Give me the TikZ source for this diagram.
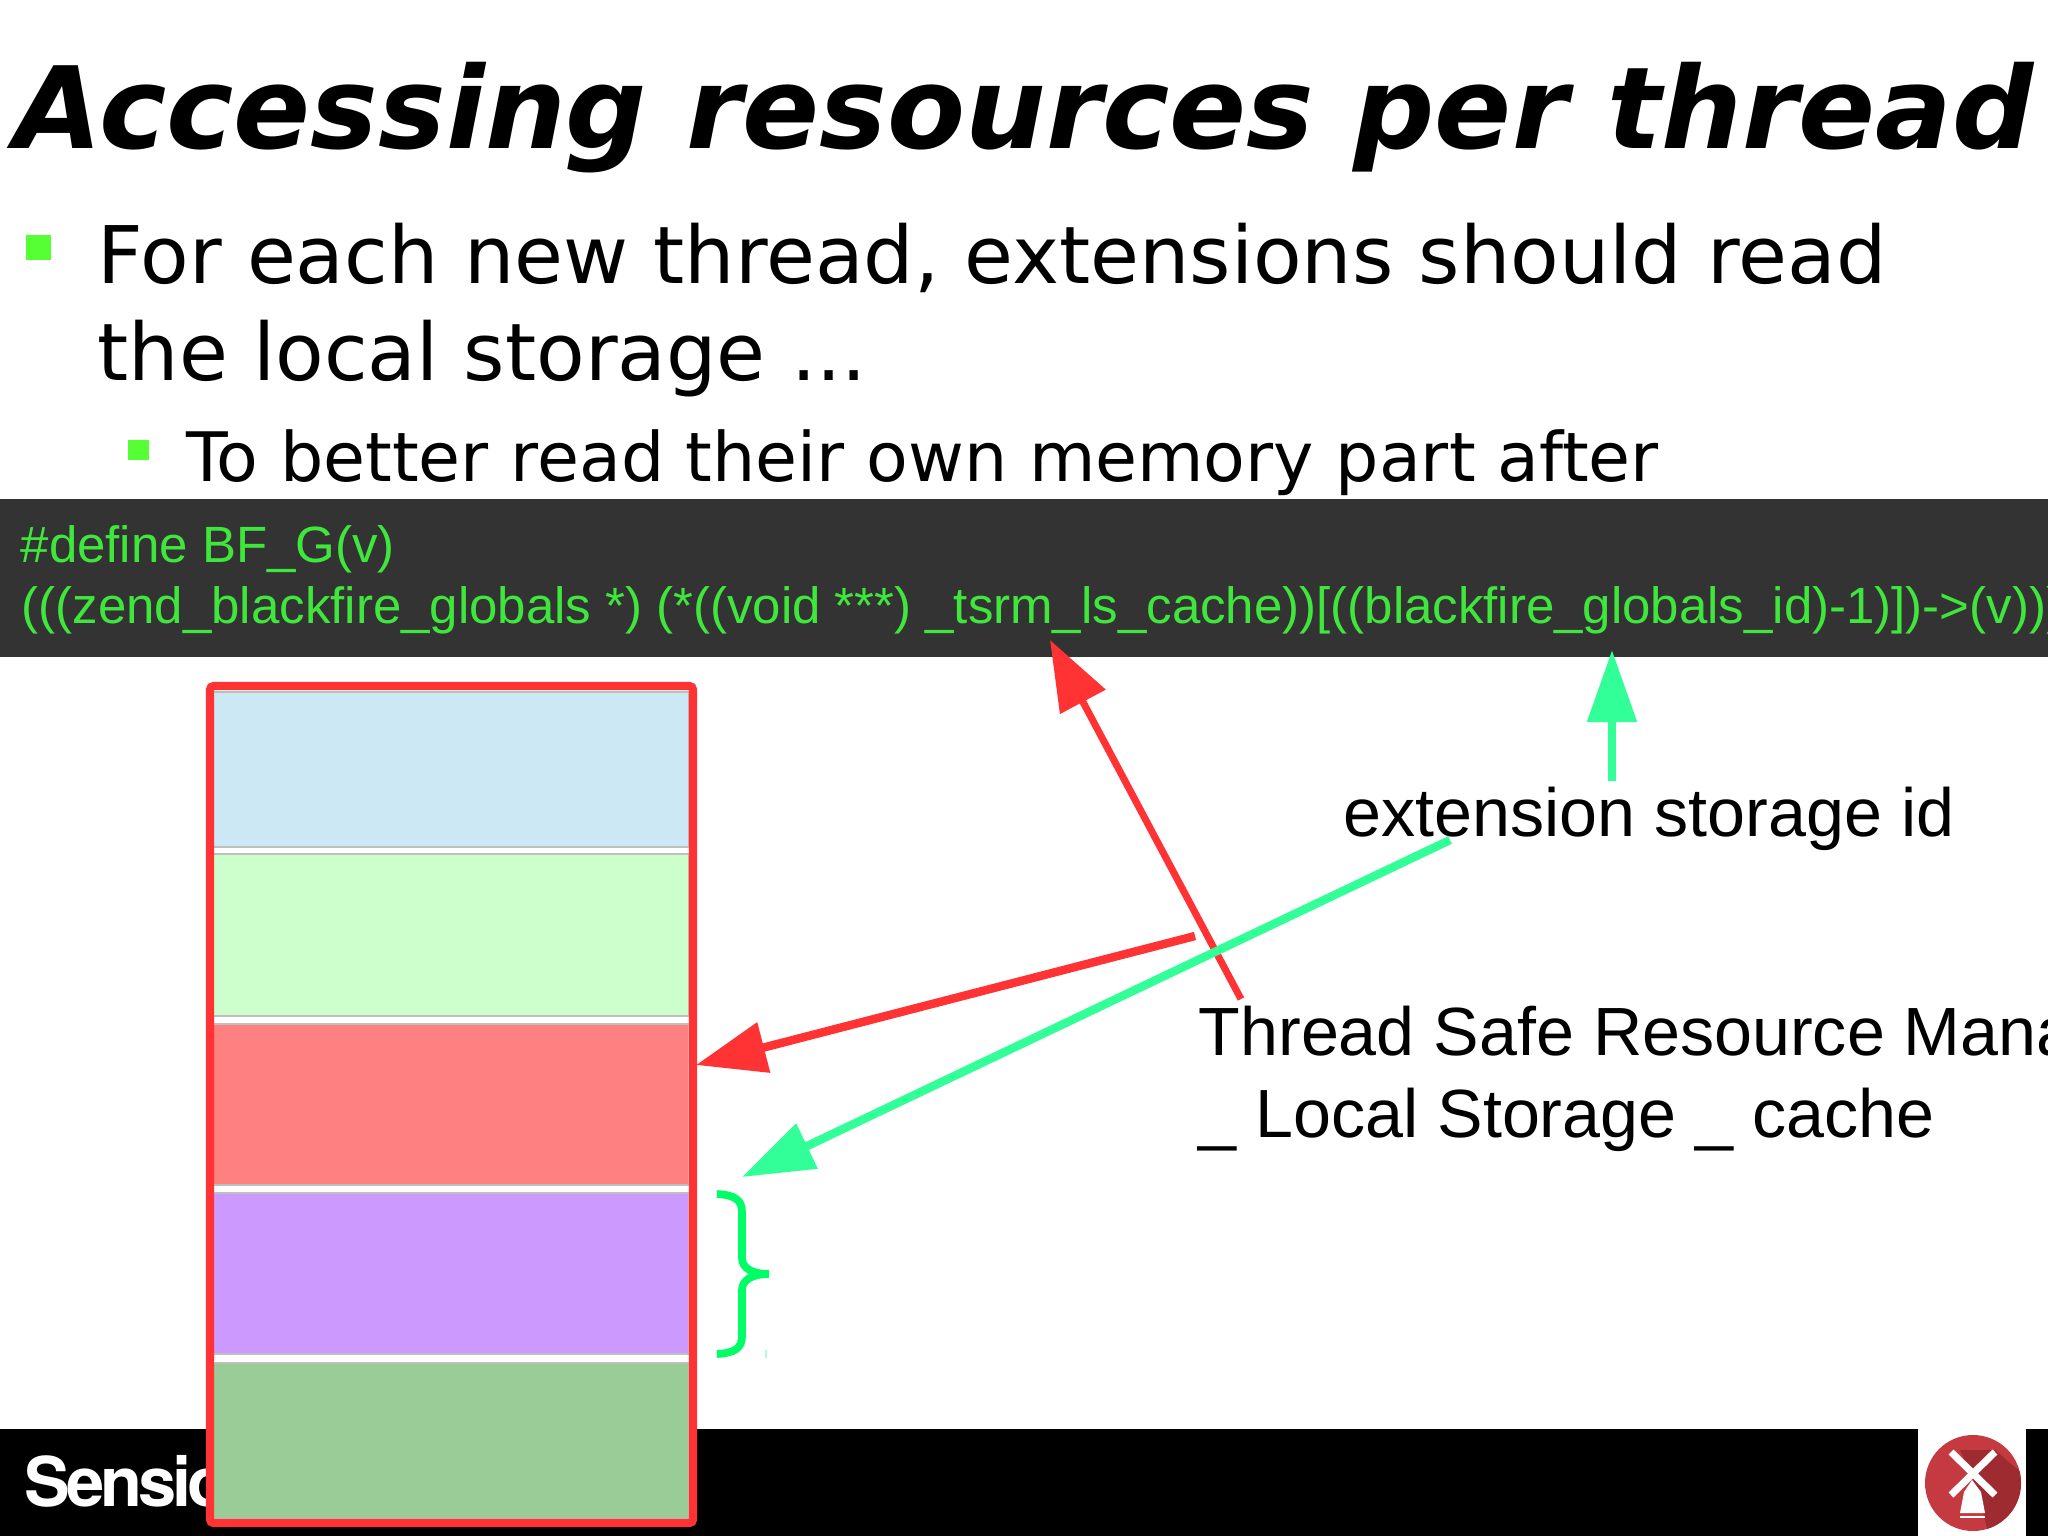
\documentclass[tikz,border=0pt]{standalone}
\usepackage{fontspec}
\usepackage{xcolor}
\usetikzlibrary{arrows.meta}
\setmainfont{DejaVu Sans}
\newfontfamily\labelfont{Liberation Sans}
\newfontfamily\logofont{TeX Gyre Heros}
\definecolor{barGray}{HTML}{333333}
\definecolor{codeGreen}{HTML}{3FE63C}
\definecolor{bulletGreen}{HTML}{55FF33}
\definecolor{arrowRed}{HTML}{FF3333}
\definecolor{arrowMint}{HTML}{33FF99}
\definecolor{braceGreen}{HTML}{00FF66}
\definecolor{millRed}{HTML}{C43A40}
\definecolor{millDark}{HTML}{9E2B30}
\definecolor{slotBlue}{HTML}{CCE8F5}
\definecolor{slotGreen}{HTML}{CCFFCC}
\definecolor{slotRed}{HTML}{FF8080}
\definecolor{slotViolet}{HTML}{CC99FF}
\definecolor{slotMoss}{HTML}{99CC96}

\begin{document}
\begin{tikzpicture}[x=0.01cm,y=-0.01cm,
    txt/.style={anchor=base west,inner sep=0pt},
    slot/.style={draw=black!25,line width=0.3pt},
    bullet/.style={fill=bulletGreen},
    redarrow/.style={draw=arrowRed,line width=2.4pt,-{Triangle[length=0.7cm,width=0.5cm,fill=arrowRed]}},
    mintarrow/.style={draw=arrowMint,line width=2.4pt,-{Triangle[length=0.72cm,width=0.48cm,fill=arrowMint]}}]
    \useasboundingbox (0,0) rectangle (2048,1536);
    \fill[white] (0,0) rectangle (2048,1536);

    \node[txt,font=\fontsize{32.3}{32.3}\selectfont\bfseries\itshape] (title) at (14,148) {Accessing resources per thread};
    \fill[bullet] (26,235) rectangle (51,260);
    \node[txt,font=\fontsize{22.6}{22.6}\selectfont] (lineone) at (97,283) {For each new thread, extensions should read};
    \node[txt,font=\fontsize{22.6}{22.6}\selectfont] (linetwo) at (97,380) {the local storage ...};
    \fill[bullet] (128,440) rectangle (149,460);
    \node[txt,font=\fontsize{19.4}{19.4}\selectfont] (sub) at (186,481) {To better read their own memory part after};

    \fill[barGray] (0,499) rectangle (2048,657);
    \node[txt,text=codeGreen,font=\labelfont\fontsize{14.5}{14.5}\selectfont] (define) at (20,562) {\#define BF\_G(v)};
    \node[txt,text=codeGreen,font=\labelfont\fontsize{14.5}{14.5}\selectfont] (expansion) at (21,623) {(((zend\_blackfire\_globals *) (*((void ***) \_tsrm\_ls\_cache))[((blackfire\_globals\_id)-1)])->(v)))};

    \fill[black] (0,1429) rectangle (1918,1536);
    \fill[black] (2026,1429) rectangle (2048,1536);
    \node[txt,text=white,font=\logofont\bfseries\fontsize{19.5}{19.5}\selectfont] (brand) at (24,1506) {\addfontfeature{LetterSpace=-6}Sensio};

    \fill[white] (213,692) rectangle (689,1519);
    \filldraw[slot,fill=slotBlue] (213,692) rectangle (689,847);
    \filldraw[slot,fill=slotGreen] (213,854) rectangle (689,1016);
    \filldraw[slot,fill=slotRed] (213,1024) rectangle (689,1185);
    \filldraw[slot,fill=slotViolet] (213,1193) rectangle (689,1354);
    \filldraw[slot,fill=slotMoss] (213,1363) rectangle (689,1519);
    \draw[arrowRed,line width=2.3pt,rounded corners=1pt] (210,686) rectangle (693,1523);

    \draw[braceGreen,line width=2.2pt] (717,1194) .. controls (735,1195) and (742,1200) .. (742,1212) -- (742,1258) .. controls (742,1268) and (752,1274) .. (769,1274) .. controls (752,1274) and (742,1280) .. (742,1290) -- (742,1336) .. controls (742,1348) and (735,1353) .. (717,1354);
    \draw[braceGreen!30,line width=0.3pt] (766,1350)--(766,1358);

    \node[txt,font=\labelfont\fontsize{19.4}{19.4}\selectfont] (storageid) at (1343,836) {extension storage id};
    \node[txt,font=\labelfont\fontsize{19.4}{19.4}\selectfont] (tsrm) at (1198,1055) {Thread Safe Resource Mana};
    \node[txt,font=\labelfont\fontsize{19.4}{19.4}\selectfont] (tsrmtwo) at (1198,1137) {\_ Local Storage \_ cache};

    \coordinate (redtail) at (1241,999);
    \coordinate (redhead) at (1050,640);
    \coordinate (slottail) at (1195,936);
    \coordinate (slothead) at (696,1065);
    \coordinate (idtail) at (1612,781);
    \coordinate (idhead) at (1612,650);
    \coordinate (nexttail) at (1450,840);
    \coordinate (nexthead) at (742,1177);
    \draw[redarrow,line width=2pt] (redtail)--(redhead);
    \draw[redarrow] (slottail)--(slothead);
    \draw[mintarrow] (idtail)--(idhead);
    \draw[mintarrow] (nexttail)--(nexthead);

    \fill[millRed] (1973,1483) circle (48);
    \begin{scope}
        \clip (1973,1483) circle (48);
        \fill[millDark] (1960,1450) -- (1995,1450) -- (2030,1480) -- (2030,1540) -- (1990,1540) -- (1985,1520) -- (1975,1483) -- cycle;
    \end{scope}
    \draw[white,line width=2pt] (1951,1452)--(1995,1495);
    \draw[white,line width=2pt] (1995,1452)--(1951,1495);
    \fill[white] (1972,1480) -- (1964,1492) -- (1960,1513) -- (1985,1513) -- (1981,1492) -- cycle;
    \fill[white] (1960,1516) rectangle (1985,1518);
\end{tikzpicture}
\end{document}
